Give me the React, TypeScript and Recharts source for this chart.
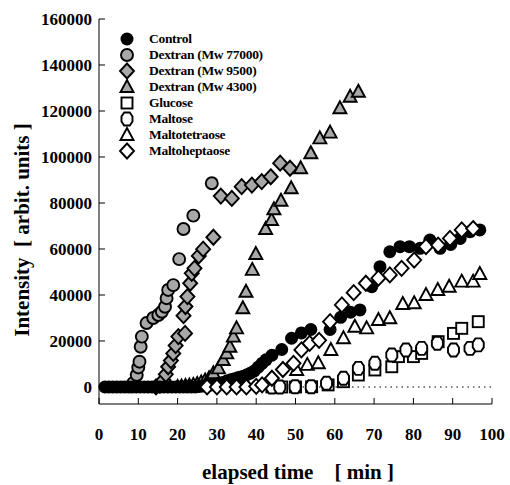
import React from 'react';
import {
  ScatterChart,
  Scatter,
  XAxis,
  YAxis,
  ReferenceLine,
  Legend,
} from 'recharts';

// [elapsed time (min), intensity]
const control = [
  [1.5, 0], [2.5, 0], [3.5, 0], [4.5, 0], [5.5, 0], [6.5, 0], [7.5, 0], [8.5, 0],
  [9.5, 0], [10.5, 0], [11.5, 0], [12.5, 0], [13.5, 0], [14.5, 0], [15.5, 0],
  [16.5, 0], [17.5, 0], [18.5, 0], [19.5, 0], [20.5, 0], [21.5, 0], [22.5, 0],
  [23.5, 0], [24.5, 0], [25.5, 200], [26.5, 400], [27.5, 600], [28.5, 900],
  [29.5, 1200], [30.5, 1600], [31.5, 2000], [32.5, 2600], [33.5, 3100], [34.5, 3600],
  [35.5, 4100], [36.5, 4600], [37.5, 5200], [38.5, 6000], [39.5, 7000], [40.5, 8600],
  [41.5, 10300], [42.5, 11800], [44, 13800], [46.5, 16300], [49, 21200], [51.5, 23500],
  [53.9, 25000], [58.8, 25000], [61.5, 30300], [64, 32500], [66.4, 33500], [69.4, 43600],
  [71.5, 52300], [74, 58800], [76.6, 61000], [79, 61000], [81.7, 60300], [84.2, 63900],
  [86.8, 60300], [89.5, 62000], [91.9, 64600], [94.4, 67500], [96.9, 68300],
];
const dextran77000 = [
  [8, 300], [8.7, 1700], [9.6, 5200], [10, 8500], [10.3, 11000], [10.6, 17500],
  [10.9, 21900], [12.1, 27800], [13.8, 30000], [15.1, 31300], [16, 32700], [16.8, 34900],
  [17.2, 38600], [17.6, 42200], [18.9, 44300], [20.4, 55600], [21.5, 68700], [24, 74500],
  [28.7, 88600],
];
const dextran9500 = [
  [14.5, 0], [15.5, 800], [16.4, 3000], [17, 5500], [17.6, 8800], [18.3, 11500],
  [18.9, 14600], [19.5, 18000], [20.2, 21900], [21.9, 23300], [21.5, 31000], [22, 35000],
  [22.5, 39300], [23.2, 45100], [23.6, 49400], [24.3, 51600], [25.4, 57000], [26.5, 59900],
  [29.1, 65100], [31, 83000], [33.8, 82000], [36.3, 87100], [38.9, 87800], [41.4, 89300],
  [43.7, 91400], [46.1, 97300], [48.6, 95100],
];
const dextran4300 = [
  [20, 0], [21, 200], [22, 400], [23, 600], [24, 900], [25, 1300], [26, 2000], [27, 2800],
  [28, 3800], [29.1, 6000], [30.4, 8100], [31.6, 11700], [32.5, 14600], [33.3, 17500],
  [34.2, 21900], [35, 25500], [36.6, 34200], [37.4, 41400], [39, 50900], [39.9, 57800],
  [42.4, 68700], [43.9, 72600], [44.5, 77300], [46.3, 81000], [48.9, 86400], [51.3, 95100],
  [53.9, 101600], [56.2, 108100], [58.8, 110600], [61.3, 121200], [63.9, 126200], [66, 128400],
];
const glucose = [
  [44, 0], [46.5, 0], [50, 0], [54.1, 100], [58.3, 900], [62.2, 2300], [66, 5200],
  [70.2, 7400], [74.5, 8800], [76.2, 13200], [80, 13200], [82.1, 14600], [86.3, 19700],
  [90.2, 23300], [92.3, 25500], [96.5, 28400],
];
const maltose = [
  [44, 0], [46, 0], [49.9, 100], [54, 100], [57.9, 1600], [62.2, 3800], [66, 8100],
  [70.2, 10300], [74.5, 13900], [78.1, 16100], [82.1, 16800], [86.1, 19000], [90.2, 16100],
  [94.4, 16800], [96.5, 18300],
];
const maltotetraose = [
  [50.3, 7400], [53, 9600], [55.8, 10300], [59, 16100], [62.2, 21200], [65.1, 26200],
  [68.1, 25500], [71.1, 29100], [74, 29900], [77.3, 36100], [80.2, 36400], [83.2, 40000],
  [86.2, 42200], [89.1, 43600], [92.3, 45800], [95.2, 45800], [96.9, 49100],
];
const maltoheptaose = [
  [27.5, 0], [30, 0], [32.5, 0], [35, 0], [37.5, 0], [40, 300], [41.5, 900], [44, 3800],
  [46.8, 7600], [49.5, 10300], [51.5, 16100], [53.6, 19000], [56, 20300], [58.8, 28400],
  [61.8, 35700], [64.8, 41000], [67.9, 45100], [71.1, 47300], [74, 48700], [77, 51600],
  [80.2, 55200], [83.2, 61000], [86.3, 61700], [89.3, 64600], [92.3, 68300], [95.2, 68900],
];

const xTicks = [0, 10, 20, 30, 40, 50, 60, 70, 80, 90, 100];
const yTicks = [0, 20000, 40000, 60000, 80000, 100000, 120000, 140000, 160000];

const GREY = '#a8a8a8';
const FONT = '"Liberation Serif", "Times New Roman", serif';

// legend order
const series = [
  { name: 'Control', data: control, kind: 'dot' },
  { name: 'Dextran (Mw 77000)', data: dextran77000, kind: 'greyCircle' },
  { name: 'Dextran (Mw 9500)', data: dextran9500, kind: 'greyDiamond' },
  { name: 'Dextran (Mw 4300)', data: dextran4300, kind: 'greyTriangle' },
  { name: 'Glucose', data: glucose, kind: 'square' },
  { name: 'Maltose', data: maltose, kind: 'hex' },
  { name: 'Maltotetraose', data: maltotetraose, kind: 'triangle' },
  { name: 'Maltoheptaose', data: maltoheptaose, kind: 'diamond' },
];
// drawing order: control covers the dextran baselines, open symbols on top
const drawOrder = [1, 2, 3, 0, 4, 5, 6, 7];

const Marker = ({ kind, cx, cy }: { kind: string; cx: number; cy: number }) => {
  const sw = 1.9;
  switch (kind) {
    case 'dot':
      return <circle cx={cx} cy={cy} r={6.5} fill="#000" />;
    case 'greyCircle':
      return <circle cx={cx} cy={cy} r={6} fill={GREY} stroke="#000" strokeWidth={sw} />;
    case 'greyDiamond':
    case 'diamond':
      return (
        <polygon
          points={`${cx},${cy - 7.5} ${cx + 7},${cy} ${cx},${cy + 7.5} ${cx - 7},${cy}`}
          fill={kind === 'diamond' ? '#fff' : GREY}
          stroke="#000"
          strokeWidth={sw}
        />
      );
    case 'greyTriangle':
    case 'triangle':
      return (
        <polygon
          points={`${cx},${cy - 7} ${cx + 6.5},${cy + 5} ${cx - 6.5},${cy + 5}`}
          fill={kind === 'triangle' ? '#fff' : GREY}
          stroke="#000"
          strokeWidth={sw}
        />
      );
    case 'square':
      return <rect x={cx - 5.5} y={cy - 5.5} width={11} height={11} fill="#fff" stroke="#000" strokeWidth={sw} />;
    case 'hex':
      return (
        <polygon
          points={`${cx - 2.8},${cy - 6.5} ${cx + 2.8},${cy - 6.5} ${cx + 5.5},${cy - 2.5} ${cx + 5.5},${cy + 2.5} ${cx + 2.8},${cy + 6.5} ${cx - 2.8},${cy + 6.5} ${cx - 5.5},${cy + 2.5} ${cx - 5.5},${cy - 2.5}`}
          fill="#fff"
          stroke="#000"
          strokeWidth={sw}
        />
      );
    default:
      return null;
  }
};

const LegendBox = () => (
  <div style={{ fontFamily: FONT, fontWeight: 'bold', fontSize: 13.5, letterSpacing: -0.3, color: '#000' }}>
    {series.map((s) => (
      <div key={s.name} style={{ display: 'flex', alignItems: 'center', height: 16 }}>
        <svg width={20} height={16} style={{ overflow: 'visible' }}>
          <Marker kind={s.kind} cx={10} cy={8} />
        </svg>
        <span style={{ marginLeft: 12, lineHeight: '16px', whiteSpace: 'nowrap' }}>{s.name}</span>
      </div>
    ))}
  </div>
);

const tickStyle = { fill: '#000', fontSize: 17, fontWeight: 'bold', fontFamily: FONT };

export default function App() {
  return (
    <div style={{ position: 'absolute', left: 0, top: 0, width: 510, height: 485, background: '#fff' }}>
      <ScatterChart width={510} height={485} margin={{ top: 19, right: 18, bottom: 0, left: 0 }}>
        <XAxis
          type="number"
          dataKey="x"
          domain={[0, 100]}
          ticks={xTicks}
          height={81}
          tickSize={-6}
          tickMargin={30}
          tick={tickStyle}
          stroke="#000"
          label={{
            content: () => (
              <text x={298} y={479} textAnchor="middle" fontFamily={FONT} fontWeight="bold" fontSize={21} fill="#000">
                {'elapsed time\u00a0\u00a0\u00a0\u00a0[ min ]'}
              </text>
            ),
          }}
        />
        <XAxis
          xAxisId="top"
          orientation="top"
          type="number"
          domain={[0, 100]}
          ticks={xTicks}
          height={0}
          tickSize={-6}
          tickFormatter={() => ''}
          stroke="#000"
        />
        <YAxis
          type="number"
          dataKey="y"
          domain={[-7400, 160000]}
          ticks={yTicks}
          width={99}
          tickSize={-6}
          tickMargin={13}
          tick={tickStyle}
          stroke="#000"
          label={{
            content: () => (
              <text
                x={22}
                y={230}
                transform="rotate(-90 22 230)"
                textAnchor="middle"
                dominantBaseline="central"
                fontFamily={FONT}
                fontWeight="bold"
                fontSize={21}
                fill="#000"
              >
                {'Intensity\u00a0\u00a0[ arbit. units ]'}
              </text>
            ),
          }}
        />
        <YAxis
          yAxisId="right"
          orientation="right"
          type="number"
          domain={[-7400, 160000]}
          ticks={yTicks}
          width={0}
          tickSize={-6}
          tickFormatter={() => ''}
          stroke="#000"
        />
        <ReferenceLine y={0} stroke="#000" strokeDasharray="1.5 4" strokeWidth={1.2} />
        <Legend
          layout="horizontal"
          verticalAlign="middle"
          align="center"
          content={() => <LegendBox />}
          wrapperStyle={{ position: 'absolute', left: 117, top: 31, width: 220, height: 'auto' }}
        />
        {drawOrder.map((i) => {
          const s = series[i];
          return (
            <Scatter
              key={s.name}
              name={s.name}
              data={s.data.map(([x, y]) => ({ x, y }))}
              isAnimationActive={false}
              shape={(p: any) => <Marker kind={s.kind} cx={p.cx} cy={p.cy} />}
            />
          );
        })}
      </ScatterChart>
    </div>
  );
}
